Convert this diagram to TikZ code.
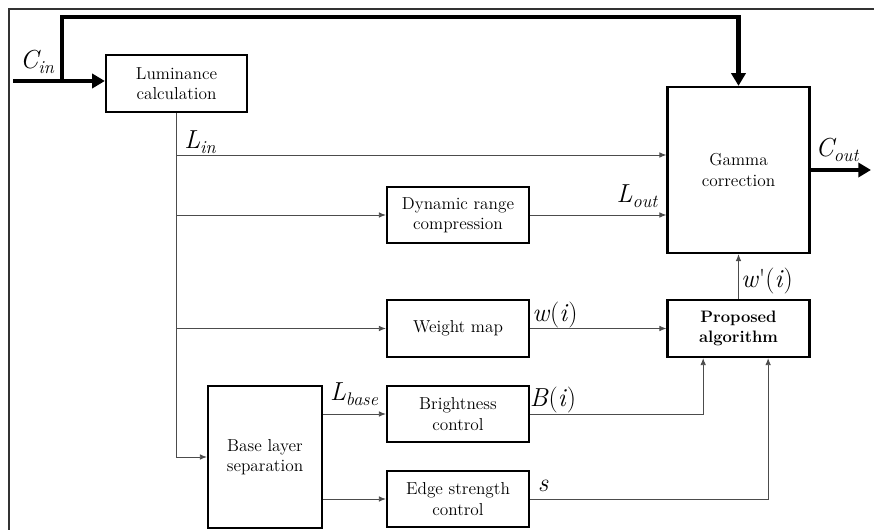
\documentclass[tikz,border=0pt]{standalone}
\usepackage{fontspec}
\usetikzlibrary{arrows.meta,calc,positioning}
\tikzset{
  blk/.style={rectangle,draw,line width=1.6pt,align=center,inner sep=0pt,
    font=\fontsize{12.3}{14.5}\selectfont},
  sig/.style={-{Latex[length=5pt,width=4pt]},line width=0.6pt,draw=black!70},
  bus/.style={-{Triangle[length=9pt,width=10pt]},line width=3.2pt,line join=miter},
  busline/.style={line width=3.2pt,line join=miter},
  lbl/.style={font=\fontsize{18.5}{18.5}\selectfont\itshape,inner sep=0pt},
  frm/.style={line width=0.8pt,draw=black!80}
}
\newcommand{\subl}[2]{#1\raisebox{-0.45ex}{\fontsize{13}{13}\selectfont #2}}

\begin{document}
\begin{tikzpicture}[x=0.025cm,y=-0.025cm]
\useasboundingbox (0,0) rectangle (874,530);
\draw[frm] (9,530) -- (9,9) -- (874,9);

% blocks
\node[blk,minimum width=3.525cm,minimum height=1.425cm] (lum) at (176.5,83.5) {Luminance\\calculation};
\node[blk,minimum width=3.55cm,minimum height=4.15cm] (gam) at (738.5,170) {Gamma\\correction};
\node[blk,minimum width=3.55cm,minimum height=1.4cm] (drc) at (458,215) {Dynamic range\\compression};
\node[blk,minimum width=3.55cm,minimum height=1.425cm] (wmap) at (458,328.5) {Weight map};
\node[blk,minimum width=3.55cm,minimum height=1.425cm,font=\fontsize{11.8}{14.5}\selectfont\bfseries] (prop) at (738.5,328.5) {Proposed\\algorithm};
\node[blk,minimum width=2.85cm,minimum height=3.55cm] (base) at (265,457) {Base layer\\separation};
\node[blk,minimum width=3.55cm,minimum height=1.4cm] (bright) at (458,414) {Brightness\\control};
\node[blk,minimum width=3.55cm,minimum height=1.4cm] (edge) at (458,499) {Edge strength\\control};

% colour path
\coordinate (cin) at (13,81);
\coordinate (tap) at (62,81);
\coordinate (top) at (62,17);
\coordinate (cout) at (871,170);
\draw[bus] (cin) -- (cin -| lum.west);
\draw[busline] (tap) -- (top) -| ($(gam.north)+(0,-12)$);
\draw[bus] ($(gam.north)+(0,-14)$) -- (gam.north);
\draw[bus] (gam.east) -- (cout);

% luminance path
\coordinate (jin) at (176.5,155);
\draw[sig] (lum.south) |- (base.west);
\draw[sig] (jin) -- (jin -| gam.west);
\draw[sig] (drc.west -| lum.south) -- (drc.west);
\draw[sig] (drc.east) -- (drc.east -| gam.west);
\draw[sig] (wmap.west -| lum.south) -- (wmap.west);
\draw[sig] (wmap.east) -- (prop.west);
\draw[sig] (bright.west -| base.east) -- (bright.west);
\draw[sig] (edge.west -| base.east) -- (edge.west);
\draw[sig] (bright.east) -| (prop.220);
\draw[sig] (edge.east) -| (prop.-45);
\draw[sig] (prop.north) -- (gam.south);

% labels
\node[lbl] (lcin) at (37,62) {\subl{C}{in}};
\node[lbl] (lcout) at (837,150) {\subl{C}{out}};
\node[lbl] (llin) at (200,142) {\subl{L}{in}};
\node[lbl] (llout) at (637,196) {\subl{L}{out}};
\node[lbl] (llbase) at (354,394) {\subl{L}{base}};
\node[lbl] (lw) at (555,315) {w\textup{(}i\textup{)}};
\node[lbl] (lb) at (553,400) {B\textup{(}i\textup{)}};
\node[lbl] (ls) at (543,486) {s};
\node[lbl] (lwp) at (767,281) {w\textup{\textquotesingle(}i\textup{)}};
\end{tikzpicture}
\end{document}
